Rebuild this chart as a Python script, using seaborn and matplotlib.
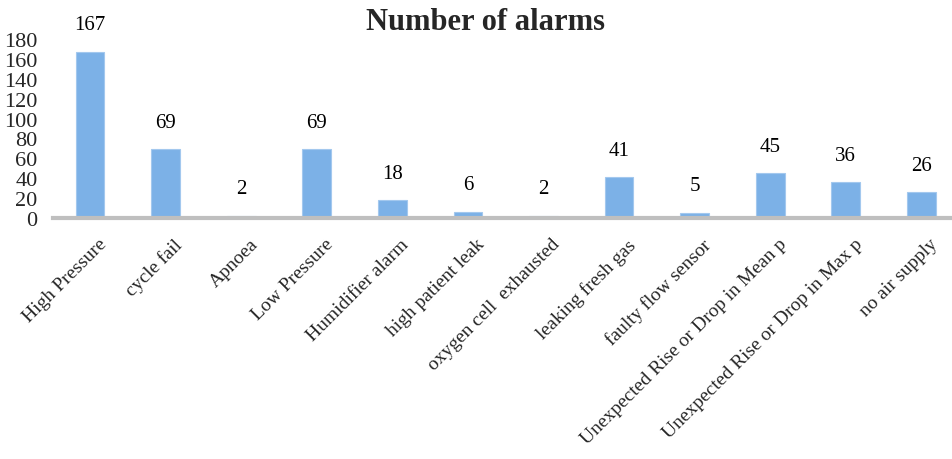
import matplotlib
matplotlib.use("Agg")
import matplotlib.pyplot as plt
import matplotlib.transforms as mtransforms
import seaborn as sns
import pandas as pd

categories = ["High Pressure", "cycle fail", "Apnoea", "Low Pressure", "Humidifier alarm",
              "high patient leak", "oxygen cell  exhausted", "leaking fresh gas",
              "faulty flow sensor", "Unexpected Rise or Drop in Mean p",
              "Unexpected Rise or Drop in Max p", "no air supply"]
alarms = [167, 69, 2, 69, 18, 6, 2, 41, 5, 45, 36, 26]
yticks = [0, 20, 40, 60, 80, 100, 120, 140, 160, 180]

sns.set_theme(style="white")
plt.rcParams['font.family'] = ['Liberation Serif', 'DejaVu Serif']

df = pd.DataFrame({"category": categories, "alarms": alarms})

fig = plt.figure(figsize=(9.53, 4.60), dpi=100)
ax = fig.add_axes([53/953, 1 - 219/460, (950 - 53)/953, (219 - 40)/460])

sns.barplot(data=df, x="category", y="alarms", ax=ax, color="#7cb1e7",
            width=0.38, saturation=1, edgecolor="#a3c8ee", linewidth=0.8)

for i, v in enumerate(alarms):
    ax.annotate(str(v), (i, v), xytext=(0, 19.5), textcoords="offset points",
                ha="center", va="center", fontsize=15, color="black")

ax.set_ylim(0, 180)
ax.set_xlim(-0.49, 11.38)
ax.set_yticks(yticks)
ax.set_yticklabels([str(t) for t in yticks], fontsize=16)
ax.tick_params(axis="y", length=0, pad=11)
ax.tick_params(axis="x", length=0, pad=6)
ax.set_xticks(range(len(categories)))
ax.set_xticklabels(categories, rotation=45, ha="right", rotation_mode="anchor", fontsize=14)
offset = mtransforms.ScaledTranslation(8/100, -9/100, fig.dpi_scale_trans)
for lbl in ax.get_xticklabels():
    lbl.set_transform(lbl.get_transform() + offset)
ax.set_xlabel("")
ax.set_ylabel("")
for s in ["top", "right", "left"]:
    ax.spines[s].set_visible(False)
ax.spines["bottom"].set_color("#bfbfbf")
ax.spines["bottom"].set_linewidth(3)
ax.grid(False)

fig.text(0.509, 1 - 23/460, "Number of alarms", ha="center", va="center",
         fontsize=22, fontweight="bold")

fig.savefig("out.png", dpi=100, facecolor="white")
